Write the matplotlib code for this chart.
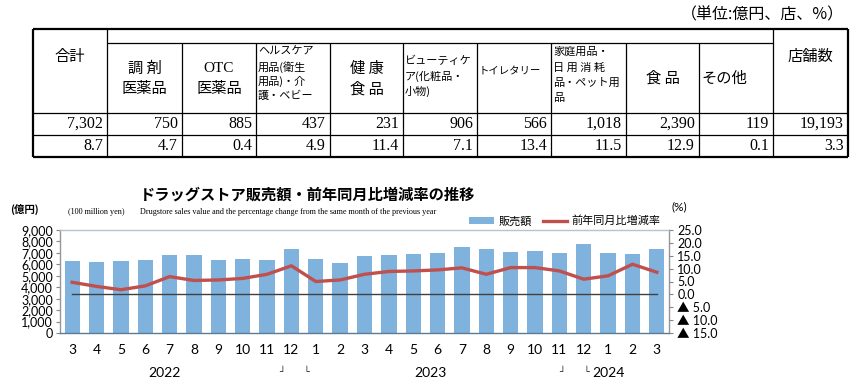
import matplotlib.pyplot as plt
import matplotlib.transforms as mtransforms
import numpy as np

plt.rcParams['font.family'] = ['Noto Sans CJK JP', 'DejaVu Sans']

# table data
table_vals = ['7,302', '750', '885', '437', '231', '906', '566', '1,018', '2,390', '119', '19,193']
table_rates = ['8.7', '4.7', '0.4', '4.9', '11.4', '7.1', '13.4', '11.5', '12.9', '0.1', '3.3']

# chart data (Mar 2022 - Mar 2024)
months = ['3', '4', '5', '6', '7', '8', '9', '10', '11', '12', '1', '2',
          '3', '4', '5', '6', '7', '8', '9', '10', '11', '12', '1', '2', '3']
sales = [6250, 6200, 6300, 6400, 6780, 6800, 6400, 6450, 6400, 7330, 6480, 6150,
         6750, 6780, 6900, 7000, 7480, 7330, 7070, 7170, 7000, 7800, 7000, 6880, 7302]
yoy = [4.7, 3.1, 1.8, 3.3, 6.9, 5.4, 5.6, 6.2, 7.8, 11.1, 5.0, 5.6,
       7.8, 8.9, 9.1, 9.5, 10.3, 7.8, 10.4, 10.4, 9.1, 5.9, 7.2, 11.7, 8.6]
years = ['2022', '2023', '2024']

W, H = 858, 384
fig = plt.figure(figsize=(W / 100, H / 100), dpi=100)

# ---------------- table ----------------
tab = fig.add_axes([0, 0, 1, 1])
tab.set_xlim(0, W)
tab.set_ylim(H, 0)
tab.axis('off')

cols = [33, 107, 182, 256, 330, 403, 477, 551, 626, 699, 773, 848]
top, mid, hbot, r1, r2 = 29, 43, 113, 135, 157

def hline(y, x0, x1, lw=0.9):
    tab.plot([x0, x1], [y, y], color='black', lw=lw, solid_capstyle='butt')

def vline(x, y0, y1, lw=0.9):
    tab.plot([x, x], [y0, y1], color='black', lw=lw, solid_capstyle='butt')

# outer box
hline(top, cols[0], cols[-1], 1.6)
hline(r2, cols[0], cols[-1], 1.6)
vline(cols[0], top, r2, 1.6)
vline(cols[-1], top, r2, 1.6)
hline(mid, cols[1], cols[-2])
hline(hbot, cols[0], cols[-1])
hline(r1, cols[0], cols[-1])
vline(cols[1], top, r2)
vline(cols[-2], top, r2)
for x in cols[2:-2]:
    vline(x, mid, r2)

tab.text(W - 14, 15, '（単位:億円、店、%）', ha='right', va='center', fontsize=11.5)

def ctr(i):
    return (cols[i] + cols[i + 1]) / 2

fs = 11
small = 8
tab.text(ctr(0), 57, '合計', ha='center', va='center', fontsize=fs)
tab.text(ctr(1), 68, '調 剤', ha='center', va='center', fontsize=fs)
tab.text(ctr(1), 89, '医薬品', ha='center', va='center', fontsize=fs)
tab.text(ctr(2), 68, 'OTC', ha='center', va='center', fontsize=fs,
         family=['Liberation Serif', 'Noto Sans CJK JP'])
tab.text(ctr(2), 89, '医薬品', ha='center', va='center', fontsize=fs)
for k, s in enumerate(['ヘルスケア', '用品(衛生', '用品)・介', '護・ベビー']):
    tab.text(cols[3] + 2, 52 + k * 14.7, s, ha='left', va='center', fontsize=small)
tab.text(ctr(4), 68, '健 康', ha='center', va='center', fontsize=fs)
tab.text(ctr(4), 89, '食 品', ha='center', va='center', fontsize=fs)
for k, s in enumerate(['ビューティケ', 'ア(化粧品・', '小物)']):
    tab.text(cols[5] + 2, 61 + k * 15, s, ha='left', va='center', fontsize=small)
tab.text(cols[6] + 2, 70, 'トイレタリー', ha='left', va='center', fontsize=7.5)
for k, s in enumerate(['家庭用品・', '日 用 消 耗', '品・ペット用', '品']):
    tab.text(cols[7] + 2, 52 + k * 15.3, s, ha='left', va='center', fontsize=small)
tab.text(ctr(8), 78, '食 品', ha='center', va='center', fontsize=fs)
tab.text(cols[9] + 2, 78, 'その他', ha='left', va='center', fontsize=fs)
tab.text(ctr(10), 57, '店舗数', ha='center', va='center', fontsize=fs)

for i in range(len(table_vals)):
    tab.text(cols[i + 1] - 4, (hbot + r1) / 2, table_vals[i], ha='right', va='center',
             fontsize=11.5, family=['Liberation Serif'])
    tab.text(cols[i + 1] - 4, (r1 + r2) / 2, table_rates[i], ha='right', va='center',
             fontsize=11.5, family=['Liberation Serif'])

# ---------------- chart ----------------
ax = fig.add_axes([60 / W, 1 - 333 / H, (669 - 60) / W, (333 - 230) / H])
x = np.arange(len(months))
bar_c = '#7fb2dc'
line_c = '#c0504d'
ax.bar(x, sales, width=0.63, color=bar_c, zorder=2, label='販売額')
ax.set_xlim(-0.5, len(months) - 0.5)
ax.set_ylim(0, 9000)
ax.set_yticks(np.arange(0, 9001, 1000))
ax.set_yticklabels([f'{v:,}' for v in range(0, 9001, 1000)])
ax.set_xticks(x)
ax.set_xticklabels(months)
num_font = ['Lato', 'Noto Sans CJK JP', 'DejaVu Sans']
for t in ax.get_yticklabels():
    t.set_family(num_font)
    t.set_fontsize(9)
for t in ax.get_xticklabels():
    t.set_family(num_font)
    t.set_fontsize(10)
ax.tick_params(axis='y', length=3, width=0.8, color='#868686', pad=2)
ax.tick_params(axis='x', length=0, pad=8)
ax.spines['top'].set_color('#b4c4d6')
ax.spines['left'].set_color('#969696')
ax.spines['right'].set_color('#969696')
ax.spines['bottom'].set_color('#5b7b9a')
for s in ax.spines.values():
    s.set_linewidth(1.0)

ax2 = ax.twinx()
ax2.plot(x, np.zeros(len(x)), color='#404040', lw=1.0, zorder=3)
ax2.plot(x, yoy, color=line_c, lw=2.4, zorder=4, label='前年同月比増減率')
ax2.set_ylim(-15, 25)
rt = np.arange(-15, 25.1, 5)
ax2.set_yticks(rt)
ax2.set_yticklabels([f'{v:.1f}' if v >= 0 else f'▲ {abs(v):.1f}' for v in rt])
for t in ax2.get_yticklabels():
    t.set_family(num_font)
    t.set_fontsize(9)
ax2.tick_params(axis='y', length=3, width=0.8, color='#868686', pad=3)
for s in ax2.spines.values():
    s.set_visible(False)

# year labels and small marks under the axis
trans = mtransforms.blended_transform_factory(ax.transData, fig.transFigure)
for xi, yl in zip([3.8, 14.7, 22.0], years):
    fig.text(xi, 1 - 373 / H, yl, transform=trans, ha='center', va='center',
             fontsize=10, family=num_font)
for xi, m in zip([8.6, 9.6, 20.1, 21.1], ['┘', '└', '┘', '└']):
    fig.text(xi, 1 - 372 / H, m, transform=trans, ha='center', va='center',
             fontsize=7, color='#333333', family=['DejaVu Sans'])

# titles
fig.text(140 / W, 1 - 195 / H, 'ドラッグストア販売額・前年同月比増減率の推移',
         ha='left', va='center', fontsize=11, fontweight='bold')
fig.text(140 / W, 1 - 212 / H,
         'Drugstore sales value and the percentage change from the same month of the previous year',
         ha='left', va='center', fontsize=5.9, family=['Liberation Serif'])
fig.text(68 / W, 1 - 212 / H, '(100 million yen)', ha='left', va='center',
         fontsize=5.9, family=['Liberation Serif'])
fig.text(10 / W, 1 - 209 / H, '(億円)', ha='left', va='center', fontsize=7.5,
         fontweight='bold')
fig.text(672 / W, 1 - 207 / H, '(%)', ha='left', va='center', fontsize=8.5,
         family=num_font)

# legend
h1, l1 = ax.get_legend_handles_labels()
h2, l2 = ax2.get_legend_handles_labels()
fig.legend(h1 + h2, l1 + l2, loc='center', bbox_to_anchor=(565 / W, 1 - 221 / H),
           ncol=2, frameon=False, fontsize=8, handlelength=2.2, handleheight=0.6,
           columnspacing=1.0, handletextpad=0.4, borderpad=0)

fig.savefig('out.png', dpi=100)
